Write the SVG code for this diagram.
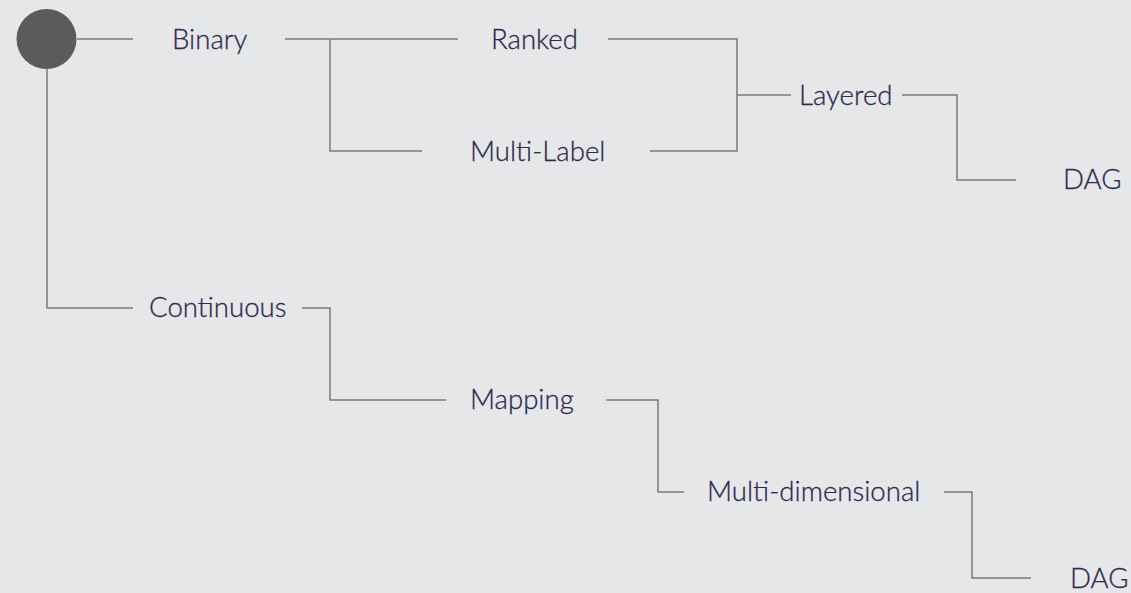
<svg xmlns="http://www.w3.org/2000/svg" width="1131" height="593" viewBox="0 0 1131 593">
<style>
.bg{fill:#e6e7e9}
.lbl{font-family:Lato,"Open Sans",sans-serif;font-size:27.6px;font-weight:300;fill:#2e2a50;stroke:#2e2a50;stroke-width:0.3px}
.edge{fill:none;stroke:#7b7b7d;stroke-width:1.5}
</style>
<rect class="bg" x="0" y="0" width="1131" height="593"/>
<g id="connectors">
<path class="edge" d="M77,39 H133"/>
<path class="edge" d="M47,69 V308 H133"/>
<path class="edge" d="M285,39 H458"/>
<path class="edge" d="M330,39 V151 H422"/>
<path class="edge" d="M608,39 H737 V151 H650"/>
<path class="edge" d="M737,95 H791"/>
<path class="edge" d="M902,95 H957 V180 H1016"/>
<path class="edge" d="M302,308 H330 V400 H446"/>
<path class="edge" d="M606,400 H658 V492 H684"/>
<path class="edge" d="M944,492 H972 V578 H1031"/>
</g>
<g id="root"><circle cx="46.5" cy="39" r="30" fill="#5a5b5d"/></g>
<g id="binary"><text class="lbl" x="172" y="49">Binary</text></g>
<g id="ranked"><text class="lbl" x="491" y="49">Ranked</text></g>
<g id="multilabel"><text class="lbl" x="470" y="161">Multi-Label</text></g>
<g id="layered"><text class="lbl" x="799" y="105">Layered</text></g>
<g id="dag1"><text class="lbl" x="1063" y="189">DAG</text></g>
<g id="continuous"><text class="lbl" x="149" y="317">Continuous</text></g>
<g id="mapping"><text class="lbl" x="470" y="409">Mapping</text></g>
<g id="multidim"><text class="lbl" x="707" y="501">Multi-dimensional</text></g>
<g id="dag2"><text class="lbl" x="1070" y="588">DAG</text></g>
</svg>
